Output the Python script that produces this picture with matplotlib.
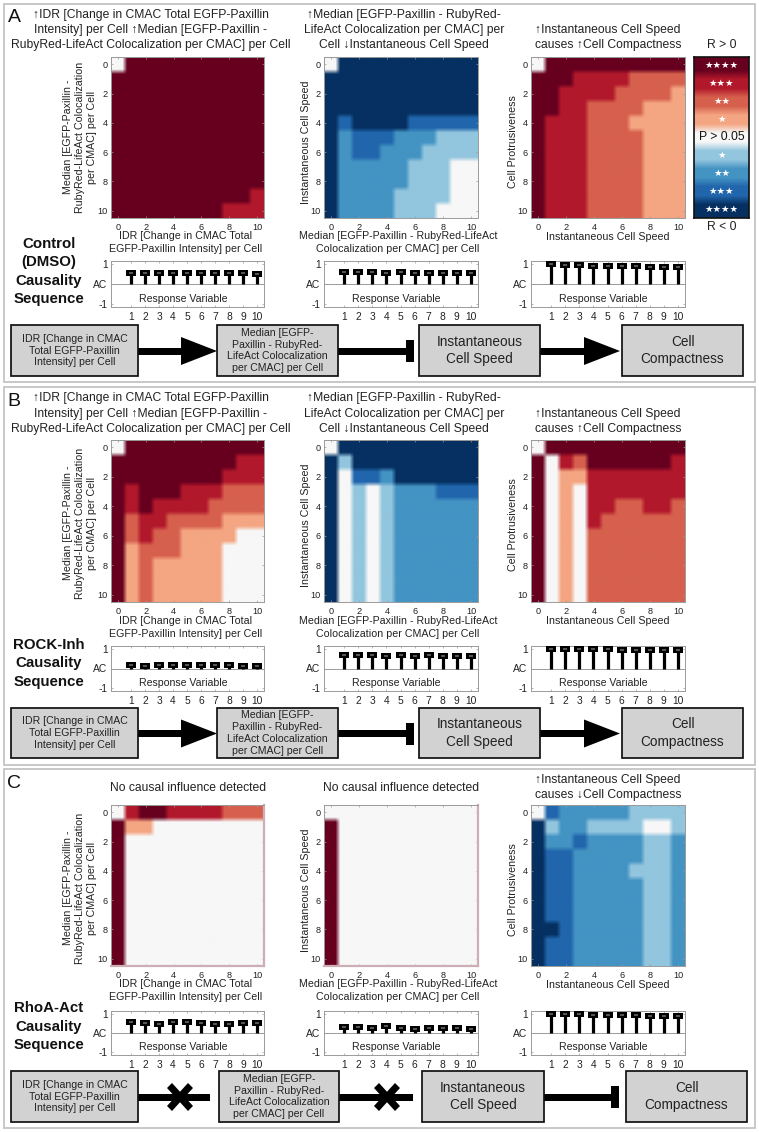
import numpy as np
import matplotlib
matplotlib.use("Agg")
import matplotlib.pyplot as plt
from matplotlib.patches import Rectangle, Polygon
from matplotlib.path import Path
from matplotlib.colors import to_rgb

plt.rcParams['font.family'] = ['Liberation Sans', 'DejaVu Sans']

W, H = 759, 1132
GREY = '#9a9a9a'
TXT = '#222222'

# significance level: + = R>0, - = R<0, 0 = P>0.05
A1 = [[0,4,4,4,4,4,4,4,4,4,4],
      [4,4,4,4,4,4,4,4,4,4,4],
      [4,4,4,4,4,4,4,4,4,4,4],
      [4,4,4,4,4,4,4,4,4,4,4],
      [4,4,4,4,4,4,4,4,4,4,4],
      [4,4,4,4,4,4,4,4,4,4,4],
      [4,4,4,4,4,4,4,4,4,4,4],
      [4,4,4,4,4,4,4,4,4,4,4],
      [4,4,4,4,4,4,4,4,4,4,4],
      [4,4,4,4,4,4,4,4,4,4,3],
      [4,4,4,4,4,4,4,4,3,3,3]]
A2 = [[0,-4,-4,-4,-4,-4,-4,-4,-4,-4,-4],
      [-4,-4,-4,-4,-4,-4,-4,-4,-4,-4,-4],
      [-4,-4,-4,-4,-4,-4,-4,-4,-4,-4,-4],
      [-4,-4,-4,-4,-4,-4,-4,-4,-4,-4,-4],
      [-4,-3,-4,-4,-4,-4,-3,-3,-3,-3,-3],
      [-4,-2,-3,-3,-3,-2,-2,-2,-1,-1,-1],
      [-4,-2,-3,-3,-2,-2,-2,-1,-1,-1,-1],
      [-4,-2,-2,-2,-2,-2,-1,-1,-1,0,0],
      [-4,-2,-2,-2,-2,-2,-1,-1,-1,0,0],
      [-4,-2,-2,-2,-2,-1,-1,-1,-1,0,0],
      [-4,-2,-2,-2,-2,-1,-1,-1,0,0,0]]
A3 = [[0,4,4,4,4,4,4,4,4,4,4],
      [4,4,4,3,3,3,3,2,2,2,2],
      [4,4,3,3,3,3,2,2,2,2,1],
      [4,4,3,3,2,2,2,2,1,1,1],
      [4,3,3,3,2,2,2,1,1,1,1],
      [4,3,3,3,2,2,2,2,1,1,1],
      [4,3,3,3,2,2,2,2,1,1,1],
      [4,3,3,3,2,2,2,2,1,1,1],
      [4,3,3,3,2,2,2,2,1,1,1],
      [4,3,3,3,2,2,2,2,1,1,1],
      [4,3,3,3,2,2,2,2,1,1,1]]
B1 = [[0,4,4,4,4,4,4,4,4,4,4],
      [4,4,4,4,4,4,4,4,4,3,3],
      [4,4,4,4,4,4,4,4,3,3,3],
      [4,3,4,4,4,3,3,3,2,2,2],
      [4,3,4,3,3,3,3,2,2,2,2],
      [4,2,3,3,2,2,2,2,1,1,1],
      [4,2,3,2,2,1,1,1,1,0,0],
      [4,1,2,2,2,1,1,1,0,0,0],
      [4,1,2,1,1,1,1,1,0,0,0],
      [4,1,2,1,1,1,1,1,0,0,0],
      [4,1,2,1,1,1,1,1,0,0,0]]
B2 = [[0,-4,-4,-4,-4,-4,-4,-4,-4,-4,-4],
      [-4,-1,-4,-4,-4,-4,-4,-4,-4,-4,-4],
      [-4,0,-3,-3,-2,-4,-4,-4,-4,-4,-4],
      [-4,0,-1,0,-1,-2,-2,-2,-3,-3,-3],
      [-4,0,-1,0,-1,-2,-2,-2,-2,-2,-2],
      [-4,0,-1,0,-1,-2,-2,-2,-2,-2,-2],
      [-4,0,-1,0,-1,-2,-2,-2,-2,-2,-2],
      [-4,0,-1,0,-1,-2,-2,-2,-2,-2,-2],
      [-4,0,-1,0,-1,-2,-2,-2,-2,-2,-2],
      [-4,0,-1,0,-1,-2,-2,-2,-2,-2,-2],
      [-4,0,-1,0,-1,-2,-2,-2,-2,-2,-2]]
B3 = [[0,4,4,4,4,4,4,4,4,4,4],
      [4,0,3,2,4,4,4,4,4,4,3],
      [4,0,1,1,3,3,3,3,3,3,3],
      [4,0,1,0,3,3,3,3,3,3,3],
      [4,0,1,0,3,3,2,2,3,3,2],
      [4,0,1,0,3,2,2,2,2,2,2],
      [4,0,1,0,2,2,2,2,2,2,2],
      [4,0,1,0,2,2,2,2,2,2,2],
      [4,0,1,0,2,2,2,2,2,2,2],
      [4,0,1,0,2,2,2,2,2,2,2],
      [4,0,1,0,2,2,2,2,2,2,2]]
C1 = [[0,3,4,4,3,3,3,3,2,2,2],
      [4,1,1,0,0,0,0,0,0,0,0],
      [4,0,0,0,0,0,0,0,0,0,0],
      [4,0,0,0,0,0,0,0,0,0,0],
      [4,0,0,0,0,0,0,0,0,0,0],
      [4,0,0,0,0,0,0,0,0,0,0],
      [4,0,0,0,0,0,0,0,0,0,0],
      [4,0,0,0,0,0,0,0,0,0,0],
      [4,0,0,0,0,0,0,0,0,0,0],
      [4,0,0,0,0,0,0,0,0,0,0],
      [4,0,0,0,0,0,0,0,0,0,0]]
C2 = [[0,0,0,0,0,0,0,0,0,0,0],
      [4,0,0,0,0,0,0,0,0,0,0],
      [4,0,0,0,0,0,0,0,0,0,0],
      [4,0,0,0,0,0,0,0,0,0,0],
      [4,0,0,0,0,0,0,0,0,0,0],
      [4,0,0,0,0,0,0,0,0,0,0],
      [4,0,0,0,0,0,0,0,0,0,0],
      [4,0,0,0,0,0,0,0,0,0,0],
      [4,0,0,0,0,0,0,0,0,0,0],
      [4,0,0,0,0,0,0,0,0,0,0],
      [4,0,0,0,0,0,0,0,0,0,0]]
C3 = [[0,-3,-2,-2,-2,-2,-2,-1,-1,-1,-1],
      [-4,-1,-2,-2,-1,-1,-1,-1,0,0,-1],
      [-4,-2,-2,-3,-2,-2,-2,-2,-1,-1,-2],
      [-4,-3,-3,-2,-2,-2,-2,-2,-1,-1,-2],
      [-4,-3,-3,-2,-2,-2,-2,-1,-1,-1,-2],
      [-4,-3,-3,-2,-2,-2,-2,-2,-1,-1,-2],
      [-4,-3,-3,-2,-2,-2,-2,-2,-1,-1,-2],
      [-4,-3,-3,-2,-2,-2,-2,-2,-1,-1,-2],
      [-4,-4,-3,-2,-2,-2,-2,-2,-1,-1,-2],
      [-4,-3,-3,-2,-2,-2,-2,-2,-1,-1,-2],
      [-4,-3,-3,-2,-2,-2,-2,-2,-1,-1,-2]]

LAGS = [1, 2, 3, 4, 5, 6, 7, 8, 9, 10]
AC_A1 = [.58, .58, .58, .55, .55, .55, .55, .55, .55, .52]
AC_A2 = [.62, .60, .60, .58, .60, .55, .55, .55, .55, .55]
AC_A3 = [1.0, .96, .95, .93, .92, .90, .90, .88, .87, .85]
AC_B1 = [.18, .12, .16, .18, .16, .16, .20, .20, .12, .12]
AC_B2 = [.70, .68, .72, .66, .68, .66, .68, .66, .63, .66]
AC_B3 = [1.0, .98, .98, .98, .98, .96, .96, .95, .93, .93]
AC_C1 = [.60, .55, .50, .57, .60, .55, .50, .50, .52, .55]
AC_C2 = [.32, .30, .28, .38, .24, .22, .28, .26, .28, .22]
AC_C3 = [1.0, .98, .98, .96, .94, .94, .94, .92, .90, .90]

BAR_LEVELS = [4, 3, 2, 1, 0, -1, -2, -3, -4]
BAR_LABELS = ['★★★★', '★★★', '★★', '★', 'P > 0.05', '★', '★★', '★★★', '★★★★']

PALETTE = {4: '#67001f', 3: '#b2182b', 2: '#d6604d', 1: '#f4a582', 0: '#f7f7f7',
           -1: '#92c5de', -2: '#4393c3', -3: '#2166ac', -4: '#053061'}

T_IDR = ['↑IDR [Change in CMAC Total EGFP-Paxillin', 'Intensity] per Cell ↑Median [EGFP-Paxillin -',
         'RubyRed-LifeAct Colocalization per CMAC] per Cell']
T_MED = ['↑Median [EGFP-Paxillin - RubyRed-', 'LifeAct Colocalization per CMAC] per',
         'Cell ↓Instantaneous Cell Speed']
T_UP = ['↑Instantaneous Cell Speed', 'causes ↑Cell Compactness']
T_DN = ['↑Instantaneous Cell Speed', 'causes ↓Cell Compactness']
T_NONE = ['No causal influence detected']
X1 = 'IDR [Change in CMAC Total\nEGFP-Paxillin Intensity] per Cell'
X2 = 'Median [EGFP-Paxillin - RubyRed-LifeAct\nColocalization per CMAC] per Cell'
X3 = 'Instantaneous Cell Speed'
Y1 = 'Median [EGFP-Paxillin -\nRubyRed-LifeAct Colocalization\nper CMAC] per Cell'
Y2 = 'Instantaneous Cell Speed'
Y3 = 'Cell Protrusiveness'
BOX1 = 'IDR [Change in CMAC\nTotal EGFP-Paxillin\nIntensity] per Cell'
BOX2 = 'Median [EGFP-\nPaxillin - RubyRed-\nLifeAct Colocalization\nper CMAC] per Cell'
BOX3 = 'Instantaneous\nCell Speed'
BOX4 = 'Cell\nCompactness'

fig = plt.figure(figsize=(W / 100, H / 100), dpi=100, facecolor='white')
bg = fig.add_axes([0, 0, 1, 1], zorder=0)
bg.set_xlim(0, W)
bg.set_ylim(H, 0)
bg.axis('off')


def px_axes(x0, y0, x1, y1, zorder=2):
    return fig.add_axes([x0 / W, 1 - y1 / H, (x1 - x0) / W, (y1 - y0) / H], zorder=zorder)


def rgb_of(levels):
    return np.array([[to_rgb(PALETTE[v]) for v in row] for row in levels])


def frame(ax, color=GREY, lw=0.7):
    for s in ax.spines.values():
        s.set_color(color)
        s.set_linewidth(lw)


def heat(ax, levels, rim=False):
    img = np.kron(rgb_of(levels), np.ones((3, 3, 1)))
    ax.imshow(img, extent=(-0.5, 10.5, 10.5, -0.5), aspect='auto', interpolation='bilinear')
    ax.set_xticks(range(0, 11, 2))
    ax.set_yticks(range(0, 11, 2))
    ax.tick_params(direction='in', length=1.5, width=0.5, color=GREY, top=True, right=True,
                   labelsize=6.6, pad=3.5, labelcolor=TXT)
    ax.tick_params(axis='y', pad=2.2)
    frame(ax)
    if rim:
        for side in ('right', 'bottom'):
            ax.spines[side].set_color('#cdaeb6')
            ax.spines[side].set_linewidth(1.6)


def ac_plot(ax, vals):
    ax.axhline(0, color=GREY, lw=0.7, zorder=1)
    ax.vlines(LAGS, 0, vals, color='black', lw=2.3, zorder=2)
    rect = Path([(-1, -.55), (1, -.55), (1, .55), (-1, .55), (-1, -.55)])
    ax.plot(LAGS, vals, ls='none', marker=rect, ms=7.4, mfc='black', mec='black', mew=0, zorder=3)
    ax.plot(LAGS, vals, ls='none', marker=rect, ms=3, mfc='#555555', mec='#555555', mew=0, zorder=4)
    ax.set_xlim(-0.43, 10.5)
    ax.set_ylim(-1.16, 1.16)
    ax.set_xticks(LAGS)
    ax.set_yticks([-1, 0, 1])
    ax.set_yticklabels(['-1', 'AC', '1'])
    ax.tick_params(direction='in', length=1.2, width=0.5, color=GREY, top=True, right=True,
                   labelsize=7.4, pad=3.5, labelcolor=TXT)
    ax.tick_params(axis='y', pad=2.5)
    frame(ax)
    ax.text(4.72, -0.75, 'Response Variable', ha='center', va='center', fontsize=7.6, color=TXT)


def txt(x, y, s, size=8.7, **kw):
    kw.setdefault('ha', 'center')
    kw.setdefault('va', 'center')
    kw.setdefault('color', TXT)
    kw.setdefault('linespacing', 1.38)
    return bg.text(x, y, s, fontsize=size, **kw)


def box(x0, y0, x1, y1, s, size, ls):
    bg.add_patch(Rectangle((x0, y0), x1 - x0, y1 - y0, fc='#d2d2d2', ec='#111111', lw=1.25, zorder=3))
    txt((x0 + x1) / 2, (y0 + y1) / 2, s, size, zorder=4, linespacing=ls)


def arrow(x0, x1, y):
    head = x1 - 36
    bg.add_patch(Rectangle((x0, y - 3.5), head - x0, 7, fc='black', ec='none', zorder=2))
    bg.add_patch(Polygon([(head, y - 14), (x1, y), (head, y + 14)], fc='black', ec='none', zorder=2))


def inhibit(x0, x1, y):
    bg.add_patch(Rectangle((x0, y - 3.5), x1 - x0, 7, fc='black', ec='none', zorder=2))
    bg.add_patch(Rectangle((x1 - 1, y - 11), 8, 22, fc='black', ec='none', zorder=2))


def cross(x0, x1, xc, y):
    bg.add_patch(Rectangle((x0, y - 3.5), x1 - x0, 7, fc='black', ec='none', zorder=2))
    a, b = 13, 5
    for sgn in (1, -1):
        bg.add_patch(Polygon([(xc - sgn * (a - b), y - a - 1), (xc - sgn * a, y - a + b - 1),
                              (xc + sgn * (a - b), y + a + 1), (xc + sgn * a, y + a - b + 1)],
                             fc='black', ec='none', zorder=2))


COLS = [(111, 264), (324, 478), (531, 685)]
panels = [
    dict(letter='A', lety=18, rect=(4, 4, 755, 382), heat_y=(57, 218), ac_y=(261, 307),
         maps=(A1, A2, A3), acs=(AC_A1, AC_A2, AC_A3),
         titles=((151, 15, T_IDR), (404, 15, T_MED), (608, 30, T_UP)),
         xlab_y=242.5, x3_y=237, ylab_c=(137, 142, 142),
         name='Control\n(DMSO)\nCausality\nSequence', name_y=271.5,
         boxes=((11, 138), (217, 338), (419, 540), (622, 743)), box_y=(325, 376)),
    dict(letter='B', lety=402, rect=(4, 387, 755, 765), heat_y=(440, 602), ac_y=(646, 691),
         maps=(B1, B2, B3), acs=(AC_B1, AC_B2, AC_B3),
         titles=((151, 398.5, T_IDR), (404, 398.5, T_MED), (608, 414, T_UP)),
         xlab_y=627.5, x3_y=621, ylab_c=(523, 525, 525),
         name='ROCK-Inh\nCausality\nSequence', name_y=663.5,
         boxes=((11, 138), (217, 338), (419, 540), (622, 743)), box_y=(708, 758)),
    dict(letter='C', lety=784, rect=(4, 769, 755, 1128), heat_y=(805, 966), ac_y=(1011, 1055),
         maps=(C1, C2, C3), acs=(AC_C1, AC_C2, AC_C3),
         titles=((188, 788, T_NONE), (401, 788, T_NONE), (608, 780, T_DN)),
         xlab_y=990.5, x3_y=985, ylab_c=(888, 890, 890),
         name='RhoA-Act\nCausality\nSequence', name_y=1026.5,
         boxes=((11, 138), (219, 339), (422, 544), (626, 747)), box_y=(1071, 1122)),
]

for p in panels:
    x0, y0, x1, y1 = p['rect']
    bg.add_patch(Rectangle((x0, y0), x1 - x0, y1 - y0, fc='white', ec='#c4c4c4', lw=1.3, zorder=0.5))
    txt(14, p['lety'], p['letter'], 14, color='#111111')
    ht, hb = p['heat_y']
    at, ab = p['ac_y']
    xlabels = [(186, p['xlab_y'], X1), (398, p['xlab_y'], X2), (608, p['x3_y'], X3)]
    ylabels = [(80, Y1), (306, Y2), (513, Y3)]
    for i, (cl, cr) in enumerate(COLS):
        heat(px_axes(cl, ht, cr, hb), p['maps'][i], rim=(p['letter'] == 'C' and i < 2))
        ac_plot(px_axes(cl, at, cr, ab), p['acs'][i])
        tx, ty, lines = p['titles'][i]
        for k, line in enumerate(lines):
            txt(tx, ty + 15.2 * k, line, 8.7)
        lx, ly, ls = xlabels[i]
        txt(lx, ly, ls, 7.65)
        txt(ylabels[i][0], p['ylab_c'][i], ylabels[i][1], 7.7, rotation=90, linespacing=1.3)
    txt(49, p['name_y'], p['name'], 10.8, fontweight='bold', color='#111111', linespacing=1.37)
    by0, by1 = p['box_y']
    b = p['boxes']
    box(b[0][0], by0, b[0][1], by1, BOX1, 7.6, 1.22)
    box(b[1][0], by0, b[1][1], by1, BOX2, 7.6, 1.22)
    box(b[2][0], by0, b[2][1], by1, BOX3, 9.8, 1.3)
    box(b[3][0], by0, b[3][1], by1, BOX4, 9.8, 1.3)
    yc = (by0 + by1) / 2 + 0.5
    if p['letter'] in 'AB':
        arrow(b[0][1], b[1][0], yc)
        inhibit(b[1][1], b[2][0] - 12, yc)
        arrow(b[2][1], b[3][0] - 2, yc)
    else:
        cross(b[0][1], 210, 180, yc)
        cross(b[1][1], 413, 387, yc)
        inhibit(b[2][1], 612, yc)

# significance scale (panel A)
cb = px_axes(694, 57, 749, 218)
cb_rgb = np.array([[to_rgb(PALETTE[v])] for v in BAR_LEVELS])
cb.imshow(np.kron(cb_rgb, np.ones((2, 1, 1))), extent=(0, 1, 9, 0), aspect='auto', interpolation='bilinear')
cb.set_xticks([])
cb.set_yticks([])
frame(cb, '#111111', 1.2)
for i, lab in enumerate(BAR_LABELS):
    if lab.startswith('P'):
        cb.text(0.5, i + 0.5, lab, ha='center', va='center', fontsize=8.7, color='#111111')
    else:
        cb.text(0.5, i + 0.5, lab, ha='center', va='center', fontsize=6.8, color='white',
                family='DejaVu Sans')
txt(722, 45, 'R > 0', 8.7)
txt(722, 227, 'R < 0', 8.7)

fig.savefig('out.png', dpi=100, facecolor='white')
